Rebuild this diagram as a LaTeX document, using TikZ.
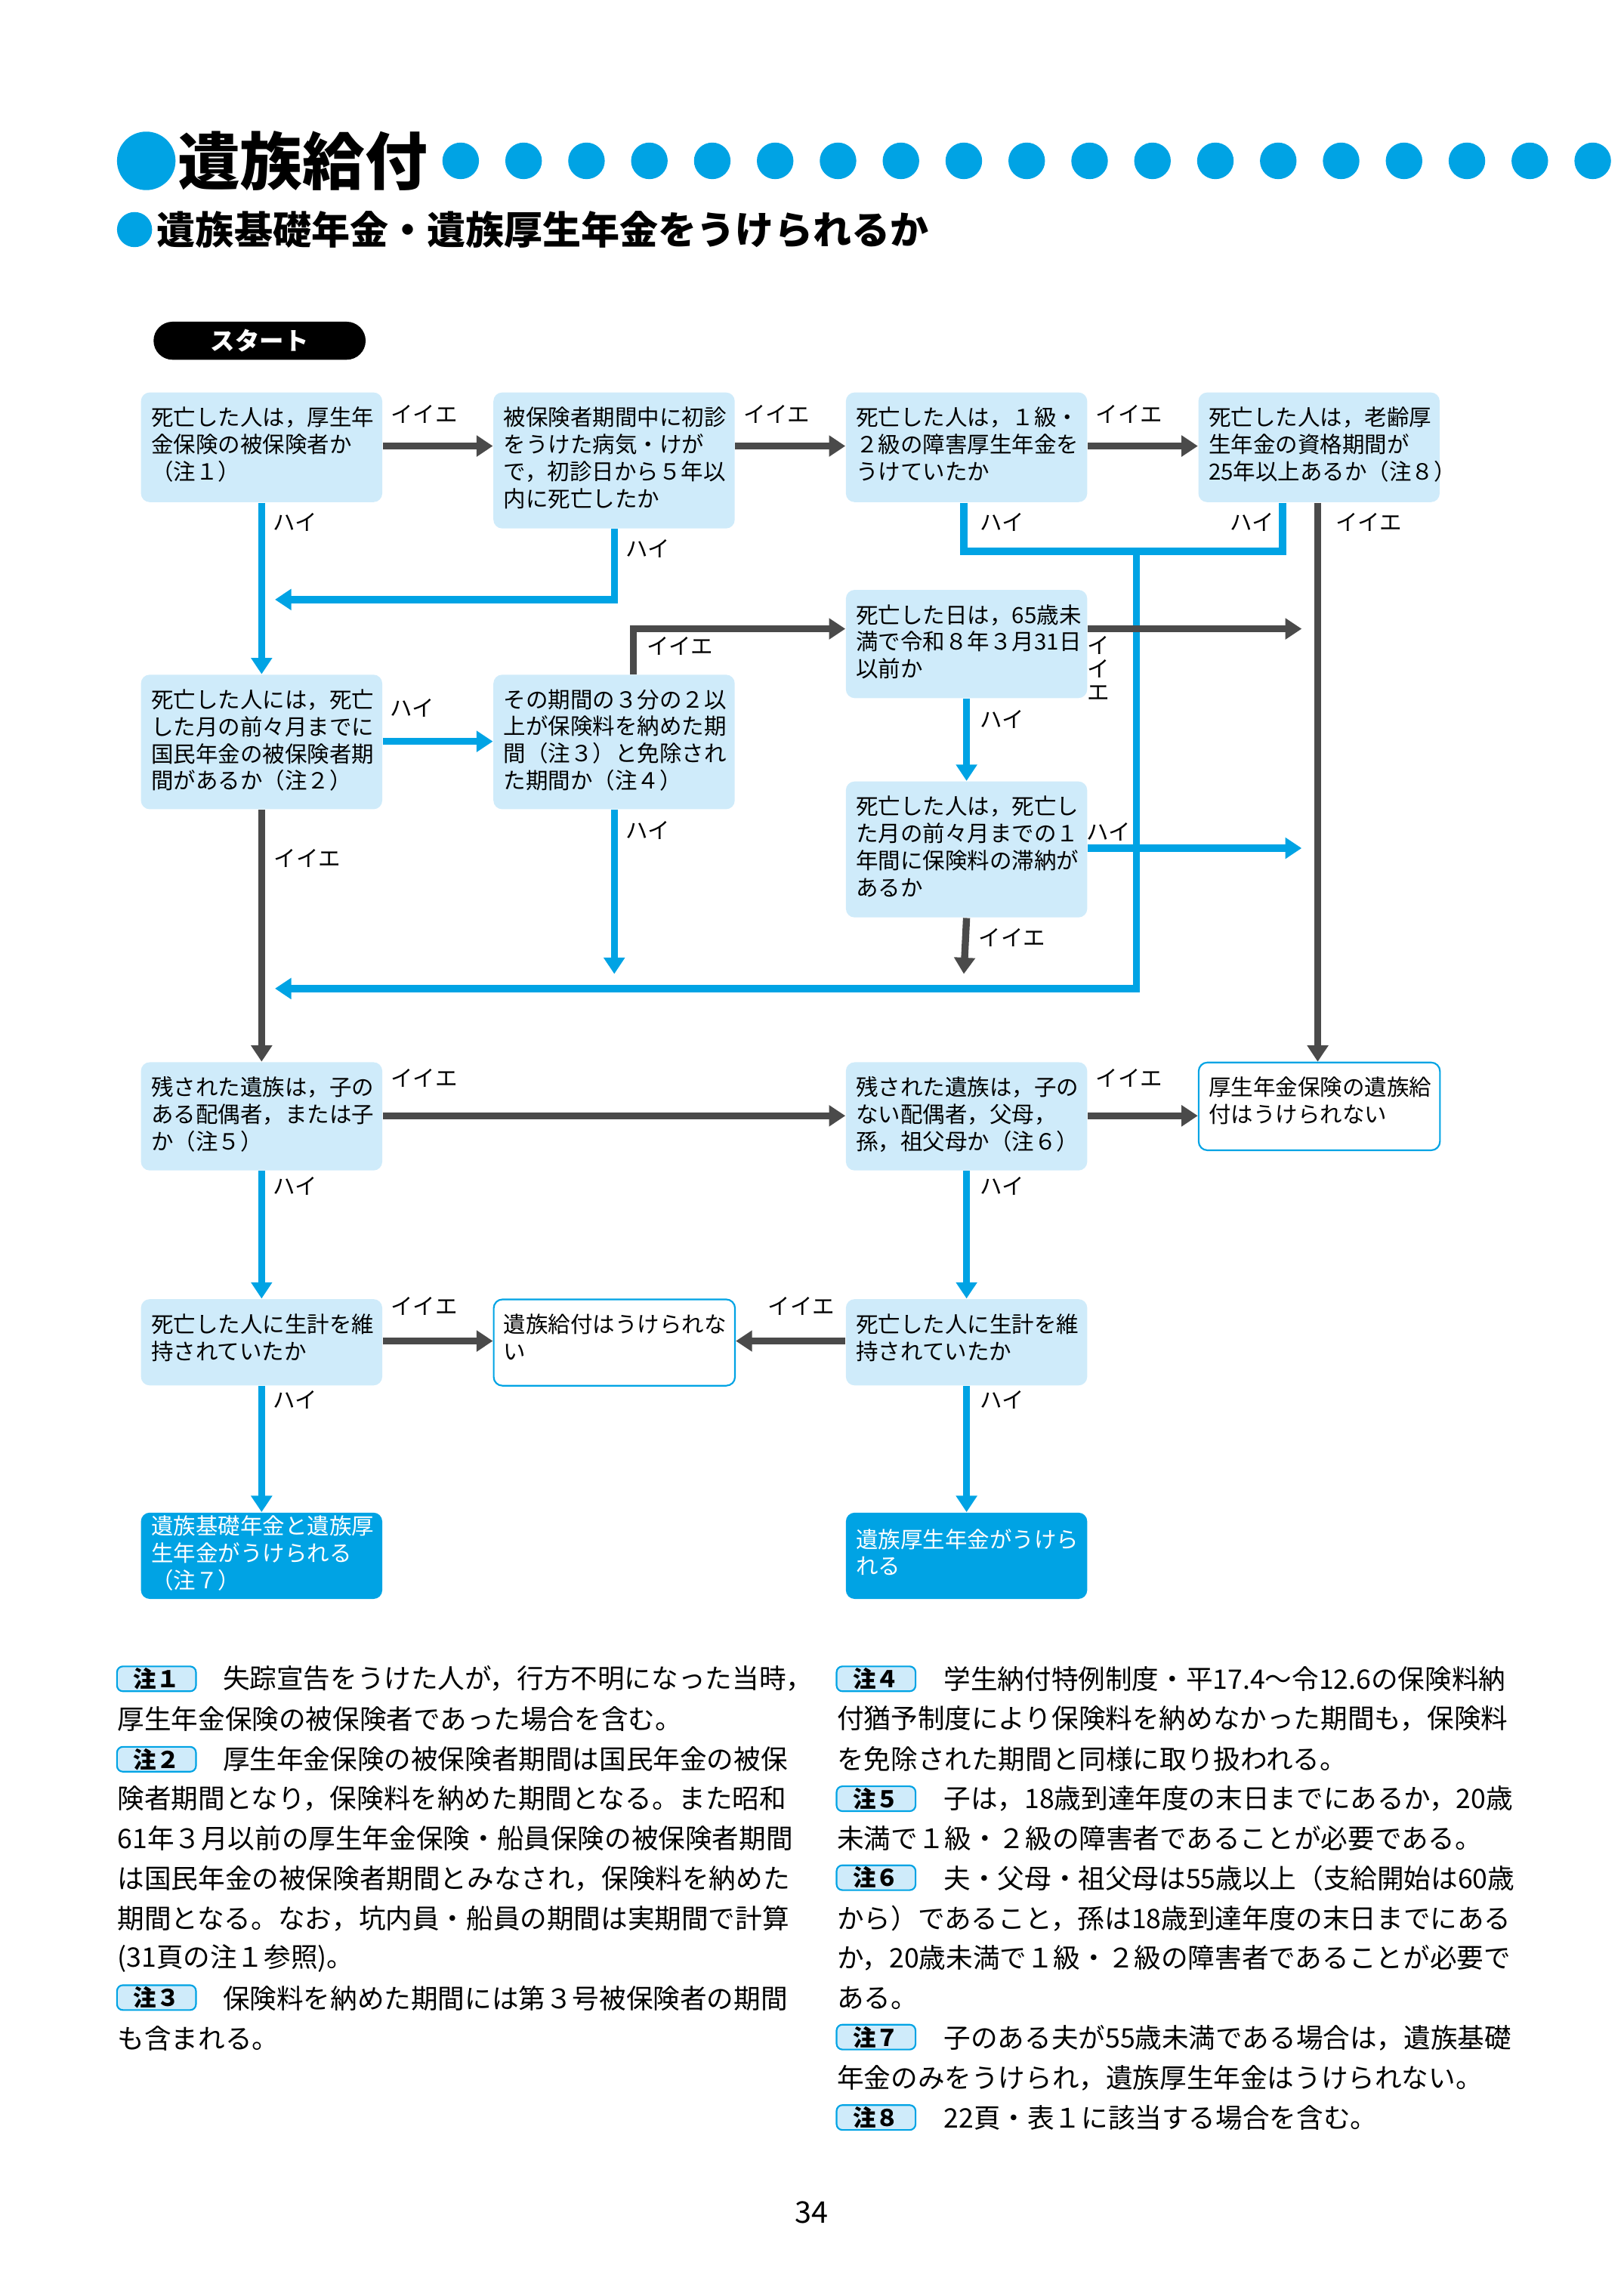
\documentclass[tikz,border=0pt]{standalone}
\usepackage{fontspec}
\setmainfont{Noto Sans CJK JP}
\usetikzlibrary{arrows.meta}
\definecolor{lineblue}{HTML}{00A3E4}
\definecolor{boxblue}{HTML}{CFEBFA}
\definecolor{darkline}{HTML}{4A4A4A}
\def\px{0.018919cm}
\tikzset{
  qbox/.style={rectangle, rounded corners=6*\px, fill=boxblue, minimum width=165*\px, anchor=north west, inner sep=0pt},
  endbox/.style={qbox, fill=white, draw=lineblue, line width=0.6pt},
  okbox/.style={qbox, fill=lineblue},
  qtext/.style={anchor=north west, inner sep=0pt, align=left, font=\fontsize{8.2pt}{9.95pt}\selectfont},
  lab/.style={inner sep=0pt, font=\fontsize{8.2pt}{9.95pt}\selectfont},
  yes/.style={draw=lineblue, line width=2.6pt, -{Triangle[width=7.5pt,length=6pt]}},
  no/.style={draw=darkline, line width=2.6pt, -{Triangle[width=7.5pt,length=6pt]}},
  yesline/.style={draw=lineblue, line width=2.6pt},
  noline/.style={draw=darkline, line width=2.6pt},
  badge/.style={rounded corners=4*\px, fill=boxblue, draw=lineblue, line width=0.6pt, minimum width=54*\px, minimum height=17*\px, inner sep=0pt, font=\fontsize{8.5pt}{9pt}\selectfont\bfseries},
  notetext/.style={anchor=west, inner sep=0pt, font=\fontsize{9.9pt}{12pt}\selectfont}
}
\begin{document}
\begin{tikzpicture}[x=0.018919cm, y=-0.018919cm]
\useasboundingbox (0,0) rectangle (1110,1568);
% title
\fill[lineblue] (100,110) circle (20);
\node[anchor=west, inner sep=0pt, font=\fontsize{23pt}{26pt}\selectfont\bfseries] (title) at (121,110) {遺族給付};
\foreach \i in {0,...,18} \fill[lineblue] (315+43*\i,110) circle (12.5);
\fill[lineblue] (92,157) circle (12);
\node[anchor=west, inner sep=0pt, font=\fontsize{14.2pt}{16pt}\selectfont\bfseries] (subtitle) at (107,157) {遺族基礎年金・遺族厚生年金をうけられるか};
% start
\node[fill=black, rounded corners=13*\px, minimum width=145*\px, minimum height=26*\px, inner sep=0pt, text=white, font=\fontsize{9pt}{10pt}\selectfont\bfseries] (start) at (177.5,233) {スタート};
% boxes
\node[qbox, minimum height=75*\px] (A) at (96,268) {};
\node[qbox, minimum height=93*\px] (B) at (337,268) {};
\node[qbox, minimum height=75*\px] (C) at (578,268) {};
\node[qbox, minimum height=75*\px] (D) at (819,268) {};
\node[qbox, minimum height=92*\px] (E) at (96,461) {};
\node[qbox, minimum height=92*\px] (F) at (337,461) {};
\node[qbox, minimum height=74*\px] (G) at (578,403) {};
\node[qbox, minimum height=93*\px] (H) at (578,534) {};
\node[qbox, minimum height=74*\px] (I) at (96,726) {};
\node[qbox, minimum height=74*\px] (J) at (578,726) {};
\node[endbox, minimum height=60*\px] (K) at (819,726) {};
\node[qbox, minimum height=59*\px] (L) at (96,888) {};
\node[endbox, minimum height=59*\px] (M) at (337,888) {};
\node[qbox, minimum height=59*\px] (N) at (578,888) {};
\node[okbox, minimum height=59*\px] (O) at (96,1034) {};
\node[okbox, minimum height=59*\px] (P) at (578,1034) {};
% box texts
\node[qtext] (At) at (103,278) {死亡した人は，厚生年\\金保険の被保険者か\\（注１）};
\node[qtext] (Bt) at (344,278) {被保険者期間中に初診\\をうけた病気・けが\\で，初診日から５年以\\内に死亡したか};
\node[qtext] (Ct) at (585,278) {死亡した人は，１級・\\２級の障害厚生年金を\\うけていたか};
\node[qtext] (Dt) at (826,278) {死亡した人は，老齢厚\\生年金の資格期間が\\25年以上あるか（注８）};
\node[qtext] (Et) at (103,471) {死亡した人には，死亡\\した月の前々月までに\\国民年金の被保険者期\\間があるか（注２）};
\node[qtext] (Ft) at (344,471) {その期間の３分の２以\\上が保険料を納めた期\\間（注３）と免除され\\た期間か（注４）};
\node[qtext] (Gt) at (585,413) {死亡した日は，65歳未\\満で令和８年３月31日\\以前か};
\node[qtext] (Ht) at (585,544) {死亡した人は，死亡し\\た月の前々月までの１\\年間に保険料の滞納が\\あるか};
\node[qtext] (It) at (103,736) {残された遺族は，子の\\ある配偶者，または子\\か（注５）};
\node[qtext] (Jt) at (585,736) {残された遺族は，子の\\ない配偶者，父母，\\孫，祖父母か（注６）};
\node[qtext] (Kt) at (826,736) {厚生年金保険の遺族給\\付はうけられない};
\node[qtext] (Lt) at (103,898) {死亡した人に生計を維\\持されていたか};
\node[qtext] (Mt) at (344,898) {遺族給付はうけられな\\い};
\node[qtext] (Nt) at (585,898) {死亡した人に生計を維\\持されていたか};
\node[qtext, text=white] (Ot) at (103,1036) {遺族基礎年金と遺族厚\\生年金がうけられる\\（注７）};
\node[qtext, text=white] (Pt) at (585,1045) {遺族厚生年金がうけら\\れる};
% free ends
\coordinate (bJoin) at (420,410);
\coordinate (cJoin) at (777,377);
\coordinate (back1) at (188,410);
\coordinate (back2) at (188,676);
\coordinate (gEnd) at (890,430);
\coordinate (hEnd) at (890,580);
\coordinate (fEnd) at (420,666);
\coordinate (hDown) at (659,666);
% connectors
\draw[yesline] (C.south -| 659,0) |- (cJoin) -| (D.south -| 877,0);
\draw[yes] (cJoin) |- (back2);
\draw[no] (A.east |- 0,305) -- (B.west |- 0,305);
\draw[no] (B.east |- 0,305) -- (C.west |- 0,305);
\draw[no] (C.east |- 0,305) -- (D.west |- 0,305);
\draw[yes] (A.south) -- (E.north);
\draw[yes] (B.south -| bJoin) |- (back1);
\draw[no] (D.south -| 901,0) -- (K.north -| 901,0);
\draw[no] (F.north -| 433,0) |- (G.west |- 0,430);
\draw[no] (G.east |- gEnd) -- (gEnd);
\draw[yes] (G.south) -- (H.north);
\draw[yes] (E.east |- 0,507) -- (F.west |- 0,507);
\draw[no] (E.south) -- (I.north);
\draw[yes] (F.south -| fEnd) -- (fEnd);
\draw[yes] (H.east |- hEnd) -- (hEnd);
\draw[no] (H.south) -- (hDown);
\draw[no] (I.east |- 0,763) -- (J.west |- 0,763);
\draw[no] (J.east |- 0,763) -- (K.west |- 0,763);
\draw[yes] (I.south) -- (L.north);
\draw[yes] (J.south) -- (N.north);
\draw[no] (L.east |- 0,917) -- (M.west |- 0,917);
\draw[no] (N.west |- 0,917) -- (M.east |- 0,917);
\draw[yes] (L.south) -- (O.north);
\draw[yes] (N.south) -- (P.north);
% connector labels
\node[lab] (l1) at (290,283) {イイエ};
\node[lab] (l2) at (531,283) {イイエ};
\node[lab] (l3) at (772,283) {イイエ};
\node[lab] (l4) at (202,357) {ハイ};
\node[lab] (l5) at (443,375) {ハイ};
\node[lab] (l6) at (685,357) {ハイ};
\node[lab] (l7) at (856,357) {ハイ};
\node[lab] (l8) at (936,357) {イイエ};
\node[lab] (l9) at (465,442) {イイエ};
\node[lab, align=center, font=\fontsize{8.2pt}{8.6pt}\selectfont] (l10) at (751,457) {イ\\イ\\エ};
\node[lab] (l11) at (685,492) {ハイ};
\node[lab] (l12) at (282,484) {ハイ};
\node[lab] (l13) at (210,587) {イイエ};
\node[lab] (l14) at (443,568) {ハイ};
\node[lab] (l15) at (758,569) {ハイ};
\node[lab] (l16) at (692,641) {イイエ};
\node[lab] (l17) at (290,737) {イイエ};
\node[lab] (l18) at (772,737) {イイエ};
\node[lab] (l19) at (202,811) {ハイ};
\node[lab] (l20) at (685,811) {ハイ};
\node[lab] (l21) at (290,893) {イイエ};
\node[lab] (l22) at (548,893) {イイエ};
\node[lab] (l23) at (202,957) {ハイ};
\node[lab] (l24) at (685,957) {ハイ};
% notes
\node[badge] (n1) at (107,1148) {注１};
\node[badge] (n2) at (107,1203) {注２};
\node[badge] (n3) at (107,1366) {注３};
\node[badge] (n4) at (599,1148) {注４};
\node[badge] (n5) at (599,1230) {注５};
\node[badge] (n6) at (599,1284) {注６};
\node[badge] (n7) at (599,1393) {注７};
\node[badge] (n8) at (599,1448) {注８};
\foreach \xx/\t [count=\i from 0] in {
  152/失踪宣告をうけた人が，行方不明になった当時，,
  80/厚生年金保険の被保険者であった場合を含む。,
  152/厚生年金保険の被保険者期間は国民年金の被保,
  80/険者期間となり，保険料を納めた期間となる。また昭和,
  80/61年３月以前の厚生年金保険・船員保険の被保険者期間,
  80/は国民年金の被保険者期間とみなされ，保険料を納めた,
  80/期間となる。なお，坑内員・船員の期間は実期間で計算,
  80/(31頁の注１参照)。,
  152/保険料を納めた期間には第３号被保険者の期間,
  80/も含まれる。}
  \node[notetext] (nl\i) at (\xx,1148+27.3*\i) {\t};
\foreach \xx/\t [count=\i from 0] in {
  645/学生納付特例制度・平17.4～令12.6の保険料納,
  572/付猶予制度により保険料を納めなかった期間も，保険料,
  572/を免除された期間と同様に取り扱われる。,
  645/子は，18歳到達年度の末日までにあるか，20歳,
  572/未満で１級・２級の障害者であることが必要である。,
  645/夫・父母・祖父母は55歳以上（支給開始は60歳,
  572/から）であること，孫は18歳到達年度の末日までにある,
  572/か，20歳未満で１級・２級の障害者であることが必要で,
  572/ある。,
  645/子のある夫が55歳未満である場合は，遺族基礎,
  572/年金のみをうけられ，遺族厚生年金はうけられない。,
  645/22頁・表１に該当する場合を含む。}
  \node[notetext] (nr\i) at (\xx,1148+27.3*\i) {\t};
\node[inner sep=0pt, font=\fontsize{11pt}{12pt}\selectfont] (page) at (555,1513) {34};
\end{tikzpicture}
\end{document}
